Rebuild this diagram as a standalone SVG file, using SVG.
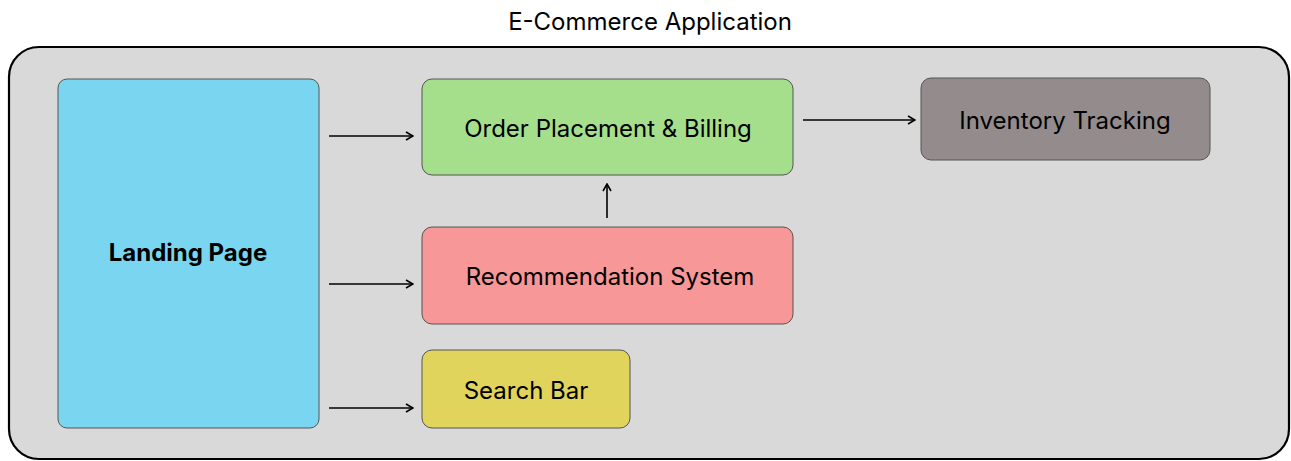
<svg xmlns="http://www.w3.org/2000/svg" width="1291" height="461" viewBox="0 0 1291 461">
<style>
.node{stroke:#555;stroke-width:1}
.lbl{font-family:Inter,"Liberation Sans",sans-serif;font-size:24px;fill:#000;text-anchor:middle;dominant-baseline:central}
.conn{stroke:#000;stroke-width:1.6;fill:none;marker-end:url(#arr)}
</style>
<defs>
<marker id="arr" viewBox="0 0 10 10" refX="9" refY="5" markerWidth="10" markerHeight="10" markerUnits="userSpaceOnUse" orient="auto">
<path d="M2,1 L9,5 L2,9" fill="none" stroke="#000" stroke-width="1.6"/>
</marker>
</defs>
<rect width="1291" height="461" fill="#fff"/>
<text x="650" y="21" class="lbl">E-Commerce Application</text>
<g id="container">
<rect x="9" y="47" width="1280" height="412" rx="30" fill="#d9d9d9" stroke="#000" stroke-width="2.2"/>
</g>
<g id="landing">
<rect class="node" x="58" y="79" width="261" height="349" rx="9" fill="#7ad6f0"/>
<text class="lbl" x="188" y="252" font-weight="bold">Landing Page</text>
</g>
<g id="order">
<rect class="node" x="422" y="79" width="371" height="96" rx="10" fill="#a5df8c"/>
<text class="lbl" x="608" y="128">Order Placement &amp; Billing</text>
</g>
<g id="recommend">
<rect class="node" x="422" y="227" width="371" height="97" rx="10" fill="#f79797"/>
<text class="lbl" x="610" y="276">Recommendation System</text>
</g>
<g id="search">
<rect class="node" x="422" y="350" width="208" height="78" rx="10" fill="#e1d45c"/>
<text class="lbl" x="526" y="390">Search Bar</text>
</g>
<g id="inventory">
<rect class="node" x="921" y="78" width="289" height="82" rx="10" fill="#948c8c"/>
<text class="lbl" x="1065" y="120">Inventory Tracking</text>
</g>
<g id="connectors">
<line class="conn" x1="329" y1="136" x2="413" y2="136"/>
<line class="conn" x1="329" y1="284" x2="413" y2="284"/>
<line class="conn" x1="329" y1="408" x2="413" y2="408"/>
<line class="conn" x1="803" y1="120" x2="915" y2="120"/>
<line class="conn" x1="607" y1="218" x2="607" y2="184"/>
</g>
</svg>
